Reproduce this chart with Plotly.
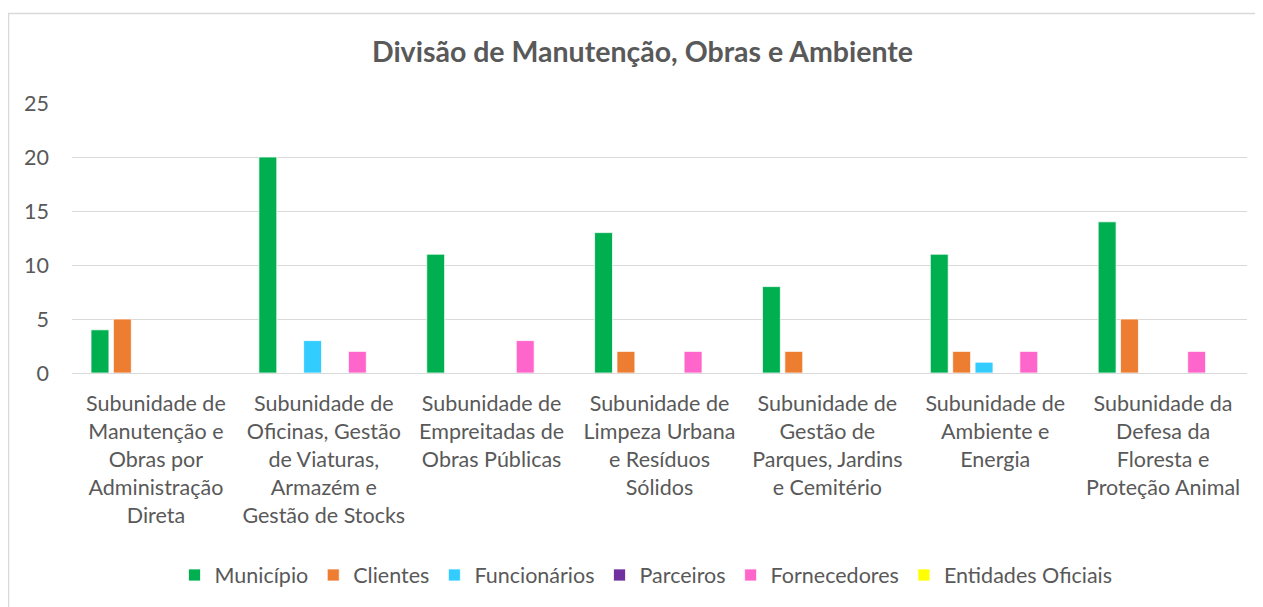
import plotly.graph_objects as go

categories = [
    "Subunidade de Manutenção e Obras por Administração Direta",
    "Subunidade de Oficinas, Gestão de Viaturas, Armazém e Gestão de Stocks",
    "Subunidade de Empreitadas de Obras Públicas",
    "Subunidade de Limpeza Urbana e Resíduos Sólidos",
    "Subunidade de Gestão de Parques, Jardins e Cemitério",
    "Subunidade de Ambiente e Energia",
    "Subunidade da Defesa da Floresta e Proteção Animal",
]
tick_labels = [
    "Subunidade de<br>Manutenção e<br>Obras por<br>Administração<br>Direta",
    "Subunidade de<br>Oficinas, Gestão<br>de Viaturas,<br>Armazém e<br>Gestão de Stocks",
    "Subunidade de<br>Empreitadas de<br>Obras Públicas",
    "Subunidade de<br>Limpeza Urbana<br>e Resíduos<br>Sólidos",
    "Subunidade de<br>Gestão de<br>Parques, Jardins<br>e Cemitério",
    "Subunidade de<br>Ambiente e<br>Energia",
    "Subunidade da<br>Defesa da<br>Floresta e<br>Proteção Animal",
]

municipio = [4, 20, 11, 13, 8, 11, 14]
clientes = [5, 0, 0, 2, 2, 2, 5]
funcionarios = [0, 3, 0, 0, 0, 1, 0]
parceiros = [0, 0, 0, 0, 0, 0, 0]
fornecedores = [0, 2, 3, 2, 0, 2, 2]
entidades_oficiais = [0, 0, 0, 0, 0, 0, 0]

series = [
    ("Município", municipio, "#00B050"),
    ("Clientes", clientes, "#ED7D31"),
    ("Funcionários", funcionarios, "#33CCFF"),
    ("Parceiros", parceiros, "#7030A0"),
    ("Fornecedores", fornecedores, "#FF66CC"),
    ("Entidades Oficiais", entidades_oficiais, "#FFFF00"),
]

FONT = "Lato"
TXT = "#595959"
FS = 21.5

fig = go.Figure()
for name, vals, color in series:
    fig.add_trace(go.Bar(
        x=categories, y=vals, name=name,
        marker=dict(color=color, line=dict(color="white", width=0.75)),
    ))

# page body has an 8px margin; figure coordinates = reference - 8
OFF = 8
W, H = 1263 - OFF, 607 - OFF
L, R, T, B = 72 - OFF, 16, 103 - OFF, 234
pw, ph = W - L - R, H - T - B

def px(x):
    return (x - OFF - L) / pw

def py(y):
    return (H - B - (y - OFF)) / ph

fig.update_layout(
    width=W, height=H,
    margin=dict(l=L, r=R, t=T, b=B, autoexpand=False),
    paper_bgcolor="white", plot_bgcolor="white",
    barmode="group", bargap=0.2, bargroupgap=0.2,
    font=dict(family=FONT, size=FS, color=TXT),
    title=dict(
        text="<b>Divisão de Manutenção, Obras e Ambiente</b>",
        x=px(642.5), xref="paper", xanchor="center",
        y=1 - (52 - OFF) / H, yref="container", yanchor="middle",
        font=dict(family=FONT, size=28.5, color=TXT),
    ),
    xaxis=dict(
        type="category",
        tickmode="array", tickvals=categories, ticktext=tick_labels,
        showgrid=False, showline=True, linecolor="#D9D9D9", linewidth=1.3,
        ticks="", ticklabelstandoff=11,
        tickfont=dict(family=FONT, size=FS, color=TXT),
        tickangle=0,
    ),
    yaxis=dict(
        range=[0, 25], dtick=5, tick0=0,
        showgrid=True, gridcolor="#D9D9D9", gridwidth=1.3,
        zeroline=False, showline=False,
        ticks="", ticklabelstandoff=22,
        tickfont=dict(family=FONT, size=FS, color=TXT),
    ),
    legend=dict(
        orientation="h", x=px(646), xanchor="center",
        y=py(575), yanchor="middle",
        font=dict(family=FONT, size=FS, color=TXT),
        traceorder="normal", itemclick=False,
    ),
    shapes=[dict(
        type="rect", xref="paper", yref="paper",
        x0=px(8.5), x1=px(1300), y0=py(640), y1=py(13.5),
        line=dict(color="#D9D9D9", width=1.5), fillcolor="rgba(0,0,0,0)",
        layer="below",
    )],
)

fig.write_html("out.html")
